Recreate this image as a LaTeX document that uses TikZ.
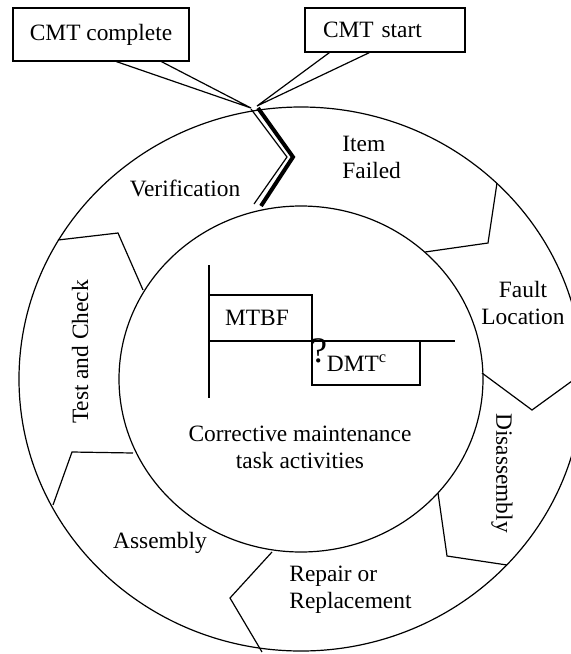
\documentclass[tikz,border=0pt]{standalone}
\usepackage{fontspec}
\setmainfont{Liberation Serif}
\usepackage{tikz}

\tikzset{
  lbl/.style={inner sep=0pt, font=\fontsize{11.7}{13.5}\selectfont},
  callbox/.style={draw, line width=0.6pt, font=\fontsize{11.7}{13.5}\selectfont},
  divider/.style={line width=0.6pt, line join=miter},
}

\begin{document}
\begin{tikzpicture}[x=0.5pt,y=0.5pt,yscale=-1,xscale=1]
        \useasboundingbox (0,0) rectangle (571,654);
        \clip (0,0) rectangle (571,654);

        % rings
        \draw [line width=0.6pt] (301,379) ellipse [x radius=282, y radius=272];
        \draw [line width=0.6pt] (301,379) ellipse [x radius=182, y radius=173];

        % segment borders
        \draw [divider] (497,183) -- (488,243) -- (425,252);
        \draw [divider] (583,373) -- (532,410) -- (482,373);
        \draw [divider] (507,565) -- (447,556) -- (438,493);
        \draw [divider] (262,652) -- (230,598) -- (272,552);
        \draw [divider] (53,505) -- (72,452) -- (133,453);
        \draw [divider] (58,240) -- (118,233) -- (143,290);

        % start / complete border
        \draw [line width=0.6pt, line join=miter] (251,109) -- (287,157) -- (254,204);
        \draw [line width=2pt, line join=miter] (258,108) -- (293,157) -- (261,206);

        % callouts
        \coordinate (tipL) at (251,108);
        \coordinate (tipR) at (257,106);
        \node [callbox, minimum width=88pt, minimum height=26.5pt] (cmtdone) at (101,34.5) {CMT complete};
        \node [callbox, minimum height=22pt, text width=62pt, inner xsep=9pt, align=left] (cmtstart) at (385,30) {CMT start};
        \draw [line width=0.6pt] ([xshift=52pt]cmtdone.south west) -- (tipL) -- ([xshift=74.5pt]cmtdone.south west);
        \draw [line width=0.6pt] ([xshift=12.5pt]cmtstart.south west) -- (tipR) -- ([xshift=32.5pt]cmtstart.south west);

        % segment labels
        \node [lbl, align=left, anchor=west] (failed) at (342,157) {Item\\Failed};
        \node [lbl, align=center] (fault) at (523,303) {Fault\\Location};
        \node [lbl, rotate=-90] (disasm) at (502,473) {Disassembly};
        \node [lbl, align=left, anchor=west] (repair) at (289,590) {Repair or\\Replacement};
        \node [lbl] (asm) at (160,543) {Assembly};
        \node [lbl, rotate=90] (test) at (80,352) {Test and Check};
        \node [lbl] (verif) at (185,188) {Verification};

        % time line in the middle
        \draw [line width=0.6pt] (209,265) -- (209,398);
        \draw [line width=0.6pt] (209,341) -- (455,341);
        \draw [line width=0.6pt] (209,295) -- (312,295) -- (312,385) -- (420,385) -- (420,341);
        \node [lbl] (mtbf) at (257,318) {MTBF};
        \node [lbl, font=\fontsize{18}{18}\selectfont] (gap) at (319,351) {?};
        \node [lbl] (dmt) at (357,363) {DMT\textsuperscript{c}};
        \node [lbl, align=center] (cmta) at (300,447) {Corrective maintenance\\task activities};
\end{tikzpicture}
\end{document}
